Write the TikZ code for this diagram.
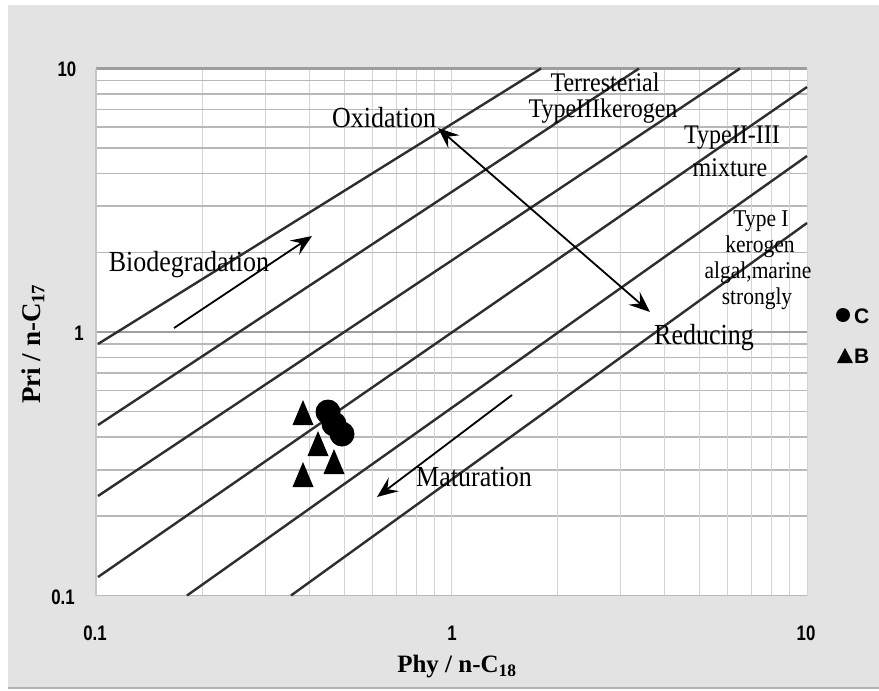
\documentclass[tikz,border=0pt]{standalone}
\usepackage{fontspec}
\setmainfont{Liberation Serif}
\setsansfont{Liberation Sans}
\usepackage{tikz}
\usetikzlibrary{arrows.meta}

\newcommand{\labfont}[1]{\fontsize{#1}{#1}\selectfont}

\begin{document}
\begin{tikzpicture}[x=1pt, y=-1pt,
    hgrid/.style={draw=black!28, line width=1.6pt},
    hmajor/.style={draw=black!38, line width=2.6pt},
    vgrid/.style={draw=black!17, line width=0.9pt},
    ratio/.style={draw=black!82, line width=2.4pt},
    trend/.style={black, line width=1.8pt},
    head/.tip={Stealth[length=21pt, width=17pt, inset=8pt]},
    tick/.style={font=\sffamily\bfseries\labfont{21}, xscale=0.8, inner sep=1pt},
    zone/.style={font=\labfont{24}, yscale=1.12, inner sep=0pt},
    kero/.style={font=\labfont{21.5}, yscale=1.12, inner sep=0pt}]
    \useasboundingbox (0,0) rectangle (879,691);
    % background and plot area
    \fill[white] (0,0) rectangle (879,691);
    \fill[black!11] (8,5) rectangle (879,688);
    \draw[black!30, line width=1.5pt] (8,688) -- (879,688);
    \fill[white] (96,68.5) rectangle (807,595.5);
    % log grid
    \foreach \d in {0,1} {
        \foreach \m in {2,...,9} {
            \pgfmathsetmacro{\gx}{96+355*(\d+log10(\m))}
            \pgfmathsetmacro{\gy}{595.5-263.5*(\d+log10(\m))}
            \draw[vgrid] (\gx,68.5) -- (\gx,595.5);
            \draw[hgrid] (96,\gy) -- (807,\gy);
        }
    }
    \draw[vgrid] (451,68.5) -- (451,595.5);
    \draw[vgrid] (807,68.5) -- (807,595.5);
    \draw[hgrid] (96,595.5) -- (807,595.5);
    \draw[hmajor] (96,332) -- (807,332);
    \draw[hmajor] (96,68.5) -- (807,68.5);
    \draw[black!22, line width=2.4pt] (96,68.5) -- (96,595.5);
    % source lines
    \draw[ratio] (98,344) -- (541,68.5);
    \draw[ratio] (98,425) -- (639,68.5);
    \draw[ratio] (98,496) -- (740,68.5);
    \draw[ratio] (98,577) -- (807,87);
    \draw[ratio] (187,595.5) -- (807,156);
    \draw[ratio] (291,595.5) -- (807,223);
    % axis numbers
    \node[tick] (y10) at (67,69) {10};
    \node[tick] (y1) at (79,333) {1};
    \node[tick] (y01) at (63,597) {0.1};
    \node[tick] (x01) at (95,633) {0.1};
    \node[tick] (x1) at (452,633) {1};
    \node[tick] (x10) at (806,633) {10};
    \node[font=\bfseries\labfont{25}] (xlab) at (457,667) {Phy / n-C\textsubscript{18}};
    \node[font=\bfseries\labfont{27}, rotate=90] (ylab) at (33,344) {Pri / n-C\textsubscript{17}};
    % zone labels
    \node[zone, font=\labfont{26}] (biodeg) at (189,265) {Biodegradation};
    \node[zone, font=\labfont{26}] (oxid) at (384,118) {Oxidation};
    \node[zone, font=\labfont{26}] (reduc) at (704,338) {Reducing};
    \node[zone, font=\labfont{26}] (matur) at (474,477) {Maturation};
    \node[zone] (terr) at (605,82) {Terresterial};
    \node[zone] (typeiii) at (603,111) {TypeIIIkerogen};
    \node[zone] (typeii) at (732,138) {TypeII-III};
    \node[zone] (mix) at (730,168) {mixture};
    \node[kero] (typei) at (761,221) {Type I};
    \node[kero] (kerogen) at (760,247) {kerogen};
    \node[kero] (algal) at (758,273) {algal,marine};
    \node[kero] (strong) at (757,299) {strongly};
    % trend arrows
    \coordinate (bioS) at (174,328);
    \coordinate (bioE) at (312,236);
    \coordinate (oxE) at (438,128);
    \coordinate (redE) at (650,312);
    \coordinate (matS) at (512,395);
    \coordinate (matE) at (377,497);
    \draw[trend, -head] (bioS) -- (bioE);
    \draw[trend, head-head] (oxE) -- (redE);
    \draw[trend, -head] (matS) -- (matE);
    % samples C
    \foreach \px/\py in {328/412, 334/424, 342/434}
        \fill[black] (\px,\py) circle (12.5);
    % samples B
    \foreach \px/\py in {303/413, 318/444, 334/462, 303/475}
        \fill[black] (\px-10.5,\py+12) -- (\px+10.5,\py+12) -- (\px,\py-13) -- cycle;
    % legend
    \fill[black] (843,315) circle (7);
    \node[font=\sffamily\bfseries\labfont{21}, anchor=west, inner sep=0pt] (legC) at (854,316) {C};
    \fill[black] (837,363) -- (853,363) -- (845,348) -- cycle;
    \node[font=\sffamily\bfseries\labfont{21}, anchor=west, inner sep=0pt] (legB) at (854,356) {B};
\end{tikzpicture}
\end{document}
